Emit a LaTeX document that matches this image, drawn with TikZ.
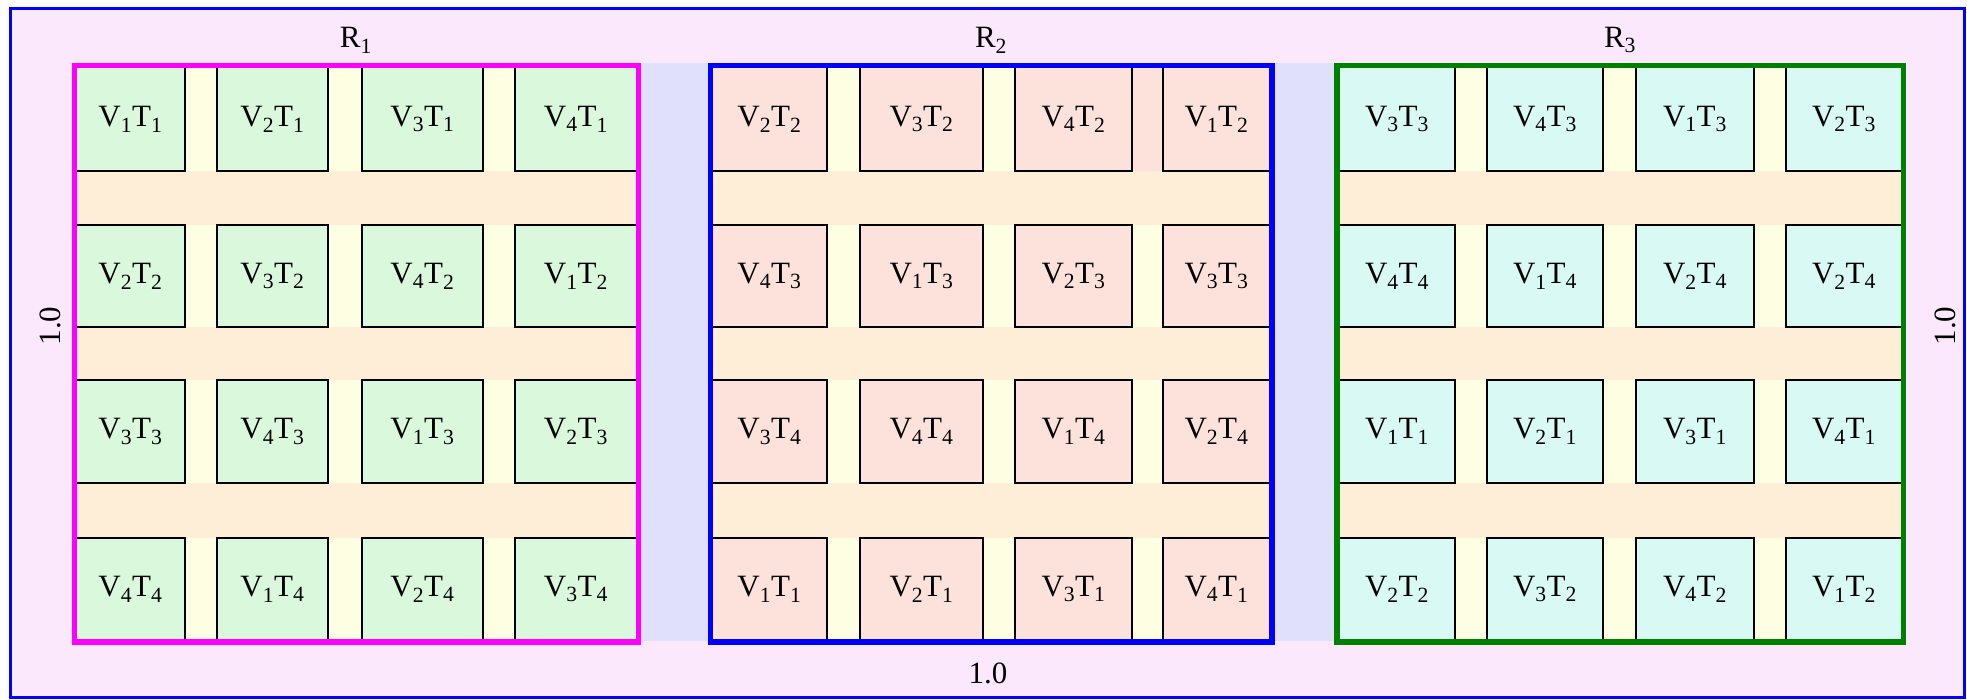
\documentclass[tikz,border=0pt]{standalone}
\usepackage{fontspec}
\setmainfont{Liberation Serif}
\definecolor{bgpink}{HTML}{FCE8FC}
\definecolor{lav}{HTML}{E0E0FC}
\definecolor{yel}{HTML}{FEFEE2}
\definecolor{peach}{HTML}{FEEED8}
\definecolor{cellA}{HTML}{DAF8DC}
\definecolor{cellB}{HTML}{FCE2DA}
\definecolor{cellC}{HTML}{D8F9F4}
\definecolor{frameA}{HTML}{FF00FF}
\definecolor{frameB}{HTML}{0000FF}
\definecolor{frameC}{HTML}{008000}
\newcommand\lblfont{\fontsize{31}{36}\selectfont}
\newcommand\vt[2]{V\textsubscript{#1}T\textsubscript{#2}}
\begin{document}
\begin{tikzpicture}[x=1pt,y=-1pt,
  cellbox/.style={draw=black,line width=2pt,inner sep=0pt,outer sep=0pt,font=\lblfont},
  panelframe/.style={line width=5.5pt},
  lbltext/.style={font=\lblfont,inner sep=0pt}]
\useasboundingbox (0,0) rectangle (1967,699);
% background and outer frame
\fill[bgpink] (9,8) rectangle (1965,697.5);
\draw[frameB,line width=3pt] (10,8.5) rectangle (1964.5,697);
% lavender gaps between panels
\fill[lav] (641,63) rectangle (708,641);
\fill[lav] (1275,63) rectangle (1335,641);
% ---------- panel 1 ----------
\fill[yel] (76,67) rectangle (637,640);
\foreach \ya/\yb in {171/225,327/380,483/538}
  \fill[peach] (76,\ya) rectangle (637,\yb);
\foreach \ya/\yb/\labs [count=\r] in
  {67/171/{1/1,2/1,3/1,4/1},225/327/{2/2,3/2,4/2,1/2},
   380/483/{3/3,4/3,1/3,2/3},538/640/{4/4,1/4,2/4,3/4}}{
  \foreach \v/\t [count=\c] in \labs {
    \pgfmathsetmacro\xa{{76,217,362,515}[\c-1]}
    \pgfmathsetmacro\xb{{185,328,483,637}[\c-1]}
    \pgfmathsetmacro\w{\xb-\xa}
    \pgfmathsetmacro\h{\yb-\ya}
    \node[cellbox,fill=cellA,minimum width=\w pt,minimum height=\h pt]
      (pa\r\c) at ({(\xa+\xb)/2},{(\ya+\yb)/2}) {\vt{\v}{\t}};
  }
}
\draw[frameA,panelframe] (74.5,65.5) rectangle (638.5,641.8);
% ---------- panel 2 ----------
\fill[yel] (712,67) rectangle (1270,640);
\fill[cellB] (1132,67) rectangle (1163,171);
\foreach \ya/\yb in {171/225,327/380,483/538}
  \fill[peach] (712,\ya) rectangle (1270,\yb);
\foreach \ya/\yb/\labs [count=\r] in
  {67/171/{2/2,3/2,4/2,1/2},225/327/{4/3,1/3,2/3,3/3},
   380/483/{3/4,4/4,1/4,2/4},538/640/{1/1,2/1,3/1,4/1}}{
  \foreach \v/\t [count=\c] in \labs {
    \pgfmathsetmacro\xa{{712,860,1015,1163}[\c-1]}
    \pgfmathsetmacro\xb{{827,983,1132,1270}[\c-1]}
    \pgfmathsetmacro\w{\xb-\xa}
    \pgfmathsetmacro\h{\yb-\ya}
    \node[cellbox,fill=cellB,minimum width=\w pt,minimum height=\h pt]
      (pb\r\c) at ({(\xa+\xb)/2},{(\ya+\yb)/2}) {\vt{\v}{\t}};
  }
}
\draw[frameB,panelframe] (710.5,65.5) rectangle (1272,641.8);
% ---------- panel 3 ----------
\fill[yel] (1339,67) rectangle (1902,640);
\foreach \ya/\yb in {171/225,327/380,483/538}
  \fill[peach] (1339,\ya) rectangle (1902,\yb);
\foreach \ya/\yb/\labs [count=\r] in
  {67/171/{3/3,4/3,1/3,2/3},225/327/{4/4,1/4,2/4,2/4},
   380/483/{1/1,2/1,3/1,4/1},538/640/{2/2,3/2,4/2,1/2}}{
  \foreach \v/\t [count=\c] in \labs {
    \pgfmathsetmacro\xa{{1339,1487,1636,1786}[\c-1]}
    \pgfmathsetmacro\xb{{1455,1603,1754,1902}[\c-1]}
    \pgfmathsetmacro\w{\xb-\xa}
    \pgfmathsetmacro\h{\yb-\ya}
    \node[cellbox,fill=cellC,minimum width=\w pt,minimum height=\h pt]
      (pc\r\c) at ({(\xa+\xb)/2},{(\ya+\yb)/2}) {\vt{\v}{\t}};
  }
}
\draw[frameC,panelframe] (1337,65.5) rectangle (1903.5,641.8);
% ---------- labels ----------
\node[lbltext] (r1) at (356,40) {R\textsubscript{1}};
\node[lbltext] (r2) at (991,40) {R\textsubscript{2}};
\node[lbltext] (r3) at (1620,40) {R\textsubscript{3}};
\node[lbltext] (wbot) at (988,673) {1.0};
\node[lbltext,rotate=90] (hleft) at (50,326) {1.0};
\node[lbltext,rotate=90] (hright) at (1945,326) {1.0};
\end{tikzpicture}
\end{document}
